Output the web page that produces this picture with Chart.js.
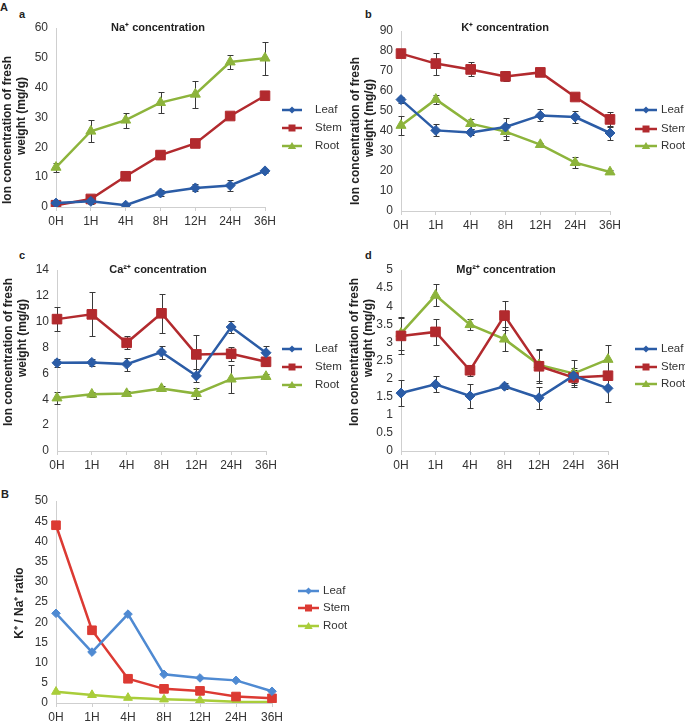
<!DOCTYPE html>
<html>
<head>
<meta charset="utf-8">
<script src="https://cdn.jsdelivr.net/npm/chart.js@4.4.0/dist/chart.umd.min.js"></script>
<style>
  body { margin: 0; background: #fff; }
  #page { position: relative; width: 685px; height: 724px; overflow: hidden; font-family: 'Liberation Sans', Arial, sans-serif; }
  canvas { position: absolute; }
  .tag { position: absolute; font-weight: bold; font-size: 11px; color: #222; }
</style>
</head>
<body>
<div id="page">
  <div class="tag" style="left:0px;top:1px">A</div>
  <div class="tag" style="left:19px;top:8px">a</div>
  <div class="tag" style="left:365px;top:8px">b</div>
  <div class="tag" style="left:19px;top:249px">c</div>
  <div class="tag" style="left:365px;top:249px">d</div>
  <div class="tag" style="left:1px;top:488px">B</div>
  <canvas id="pa" style="left:0px;top:0px"></canvas>
  <canvas id="pb" style="left:342px;top:0px"></canvas>
  <canvas id="pc" style="left:0px;top:232px"></canvas>
  <canvas id="pd" style="left:342px;top:232px"></canvas>
  <canvas id="pB" style="left:0px;top:470px"></canvas>
</div>
<script>
// sampling times
const hours = ['0H', '1H', '4H', '8H', '12H', '24H', '36H'];
const organs = ['Leaf', 'Stem', 'Root'];

// Na+ (mg/g)
const naLeaf = [1.3, 1.9, 0.6, 4.7, 6.4, 7.2, 12.1];
const naStem = [0.6, 2.7, 10.3, 17.4, 21.3, 30.5, 37.3];
const naRoot = [13.3, 25.4, 29.1, 35.0, 37.8, 48.6, 49.9];
const naLeafErr = [0.6, 0.8, 0.4, 1.0, 1.2, 1.7, 0.8];
const naStemErr = [0.4, 0.5, 0.6, 0.6, 0.6, 0.6, 0.8];
const naRootErr = [1.5, 3.6, 2.5, 3.5, 4.5, 2.5, 5.5];

// K+ (mg/g)
const kLeaf = [55.7, 40.3, 39.3, 42.0, 47.8, 47.0, 39.0];
const kStem = [78.7, 73.7, 70.8, 67.3, 69.3, 57.0, 45.8];
const kRoot = [42.8, 55.8, 43.7, 39.7, 33.2, 24.2, 19.5];
const kLeafErr = [1.5, 3.0, 1.5, 4.5, 3.0, 2.8, 3.3];
const kStemErr = [1.5, 5.5, 3.5, 2.5, 2.0, 1.0, 3.7];
const kRootErr = [4.8, 2.3, 2.5, 4.0, 1.0, 2.8, 0.8];

// Ca2+ (mg/g)
const caLeaf = [6.82, 6.85, 6.72, 7.65, 5.81, 9.59, 7.6];
const caStem = [10.2, 10.57, 8.37, 10.65, 7.47, 7.52, 6.9];
const caRoot = [4.1, 4.39, 4.44, 4.83, 4.44, 5.56, 5.76];
const caLeafErr = [0.3, 0.3, 0.5, 0.5, 0.5, 0.5, 0.55];
const caStemErr = [0.9, 1.7, 0.5, 1.5, 1.5, 0.55, 0.3];
const caRootErr = [0.5, 0.2, 0.2, 0.2, 0.45, 1.06, 0.2];

// Mg2+ (mg/g)
const mgLeaf = [1.6, 1.84, 1.52, 1.79, 1.47, 2.08, 1.73];
const mgStem = [3.18, 3.29, 2.23, 3.74, 2.34, 2.03, 2.08];
const mgRoot = [3.25, 4.3, 3.49, 3.09, 2.38, 2.14, 2.53];
const mgLeafErr = [0.36, 0.22, 0.34, 0.08, 0.3, 0.2, 0.37];
const mgStemErr = [0.5, 0.36, 0.15, 0.4, 0.45, 0.2, 0.1];
const mgRootErr = [0.45, 0.3, 0.15, 0.33, 0.45, 0.38, 0.41];

// K+/Na+ ratio
const ratioLeaf = [22.2, 12.6, 22.0, 7.1, 6.2, 5.6, 2.9];
const ratioStem = [44.0, 18.0, 6.0, 3.5, 3.0, 1.6, 1.15];
const ratioRoot = [2.8, 2.0, 1.3, 0.9, 0.66, 0.3, 0.25];

const darkColors = ['#2b5ca6', '#b22a2e', '#8db43c'];
const lightColors = ['#4f8ad2', '#dc3a33', '#a9cd3a'];
const styles = ['rectRot', 'rect', 'triangle'];
const radii = [5, 6.8, 5.8];

Chart.defaults.font.family = "'Liberation Sans', Arial, sans-serif";
Chart.defaults.color = '#333';

function drawMarker(ctx, style, x, y, color) {
  ctx.fillStyle = color;
  ctx.beginPath();
  if (style === 'rectRot') {
    ctx.moveTo(x, y - 3.5); ctx.lineTo(x + 3.5, y); ctx.lineTo(x, y + 3.5); ctx.lineTo(x - 3.5, y);
  } else if (style === 'rect') {
    ctx.rect(x - 3.5, y - 3.5, 7, 7);
  } else {
    ctx.moveTo(x, y - 4); ctx.lineTo(x + 4.2, y + 3); ctx.lineTo(x - 4.2, y + 3);
  }
  ctx.closePath();
  ctx.fill();
}

const panelDecor = {
  id: 'panelDecor',
  beforeDatasetsDraw(chart, args, opts) {
    if (!opts.errors) return;
    const {ctx, scales: {x, y}} = chart;
    ctx.save();
    ctx.strokeStyle = '#3a3a3a';
    ctx.lineWidth = 1;
    opts.errors.forEach((errs, i) => {
      const vals = chart.data.datasets[i].data;
      errs.forEach((e, j) => {
        const px = Math.round(x.getPixelForValue(j)) + 0.5;
        const top = Math.round(y.getPixelForValue(vals[j] + e)) + 0.5;
        const bot = Math.round(y.getPixelForValue(vals[j] - e)) + 0.5;
        ctx.beginPath();
        ctx.moveTo(px, top); ctx.lineTo(px, bot);
        ctx.moveTo(px - 3, top); ctx.lineTo(px + 3, top);
        ctx.moveTo(px - 3, bot); ctx.lineTo(px + 3, bot);
        ctx.stroke();
      });
    });
    ctx.restore();
  },
  afterDraw(chart, args, opts) {
    const ctx = chart.ctx;
    ctx.save();
    ctx.fillStyle = '#222';
    ctx.textBaseline = 'middle';
    ctx.textAlign = 'center';
    if (opts.title) {
      ctx.font = "bold 11px 'Liberation Sans', Arial, sans-serif";
      ctx.fillText(opts.title, opts.titleX, opts.titleY);
    }
    ctx.font = "bold 12px 'Liberation Sans', Arial, sans-serif";
    (opts.axis || []).forEach(a => {
      ctx.save();
      ctx.translate(a.x, a.y);
      ctx.rotate(-Math.PI / 2);
      ctx.fillText(a.t, 0, 0);
      ctx.restore();
    });
    const lg = opts.legend;
    chart.data.datasets.forEach((ds, i) => {
      const ly = lg.ys[i];
      ctx.strokeStyle = ds.borderColor;
      ctx.lineWidth = 2.5;
      ctx.beginPath();
      ctx.moveTo(lg.x1, ly); ctx.lineTo(lg.x2, ly);
      ctx.stroke();
      drawMarker(ctx, ds.pointStyle, (lg.x1 + lg.x2) / 2, ly, ds.borderColor);
      ctx.fillStyle = '#333';
      ctx.font = "11.5px 'Liberation Sans', Arial, sans-serif";
      ctx.textAlign = 'left';
      ctx.fillText(ds.label, lg.tx, ly);
    });
    ctx.restore();
  }
};

function makePanel(p) {
  const canvas = document.getElementById(p.id);
  canvas.width = p.w;
  canvas.height = p.h;
  const colors = p.light ? lightColors : darkColors;
  const datasets = p.series.map((data, i) => ({
    label: organs[i],
    data: data,
    borderColor: colors[i],
    backgroundColor: colors[i],
    pointStyle: styles[i],
    pointRadius: p.light ? radii[i] - 0.7 : radii[i],
    pointBorderWidth: 1,
    borderWidth: 2.5,
    tension: 0
  }));
  return new Chart(canvas.getContext('2d'), {
    type: 'line',
    data: { labels: hours, datasets: datasets },
    options: {
      responsive: false,
      animation: false,
      layout: { padding: { left: 0, right: p.padR, top: p.padT, bottom: 0 } },
      plugins: {
        legend: { display: false },
        tooltip: { enabled: false },
        panelDecor: {
          title: p.title, titleX: p.titleX, titleY: p.titleY,
          axis: p.axis, legend: p.legend, errors: p.errors
        }
      },
      scales: {
        x: {
          offset: false,
          grid: { drawOnChartArea: false, tickLength: 4, color: '#cfcfcf' },
          border: { color: '#cfcfcf' },
          ticks: { font: { size: 12 }, color: '#333', padding: 3, maxRotation: 0, autoSkip: false },
          afterFit(s) { s.height = p.xH; }
        },
        y: {
          min: 0, max: p.max,
          grid: { display: false, drawTicks: false },
          border: { display: true, color: '#cfcfcf' },
          ticks: {
            stepSize: p.step, font: { size: 12 }, color: '#333', padding: 8,
            callback: v => String(Math.round(v * 10) / 10)
          },
          afterFit(s) { s.width = p.yW; }
        }
      }
    },
    plugins: [panelDecor]
  });
}

makePanel({
  id: 'pa', w: 342, h: 232, yW: 56, padR: 77, padT: 28, xH: 25, max: 60, step: 10,
  series: [naLeaf, naStem, naRoot], errors: [naLeafErr, naStemErr, naRootErr],
  title: 'Na\u207A concentration', titleX: 158, titleY: 28,
  axis: [{ t: 'Ion concentration of fresh', x: 8, y: 130 }, { t: 'weight (mg/g)', x: 22, y: 116 }],
  legend: { x1: 282, x2: 302, tx: 315, ys: [110, 128, 146] }
});

makePanel({
  id: 'pb', w: 343, h: 232, yW: 59, padR: 75, padT: 31, xH: 21, max: 90, step: 10,
  series: [kLeaf, kStem, kRoot], errors: [kLeafErr, kStemErr, kRootErr],
  title: 'K\u207A concentration', titleX: 163, titleY: 28,
  axis: [{ t: 'Ion concentration of fresh', x: 14, y: 131 }, { t: 'weight (mg/g)', x: 28, y: 118 }],
  legend: { x1: 293, x2: 315, tx: 319, ys: [110, 129, 146] }
});

makePanel({
  id: 'pc', w: 342, h: 238, yW: 57, padR: 76, padT: 38, xH: 19, max: 14, step: 2,
  series: [caLeaf, caStem, caRoot], errors: [caLeafErr, caStemErr, caRootErr],
  title: 'Ca\u00B2\u207A concentration', titleX: 158, titleY: 38,
  axis: [{ t: 'Ion concentration of fresh', x: 9, y: 120 }, { t: 'weight (mg/g)', x: 23, y: 106 }],
  legend: { x1: 282, x2: 302, tx: 315, ys: [117, 135, 153] }
});

makePanel({
  id: 'pd', w: 343, h: 238, yW: 59, padR: 77, padT: 38, xH: 19, max: 5, step: 0.5,
  series: [mgLeaf, mgStem, mgRoot], errors: [mgLeafErr, mgStemErr, mgRootErr],
  title: 'Mg\u00B2\u207A concentration', titleX: 164, titleY: 38,
  axis: [{ t: 'Ion concentration of fresh', x: 13, y: 120 }, { t: 'weight (mg/g)', x: 27, y: 106 }],
  legend: { x1: 293, x2: 315, tx: 319, ys: [117, 135, 152] }
});

makePanel({
  id: 'pB', w: 400, h: 254, yW: 56, padR: 128, padT: 31, xH: 21, max: 50, step: 5, light: true,
  series: [ratioLeaf, ratioStem, ratioRoot],
  axis: [{ t: 'K\u207A / Na\u207A ratio', x: 20, y: 133 }],
  legend: { x1: 298, x2: 319, tx: 323, ys: [121, 138, 156] }
});
</script>
</body>
</html>
